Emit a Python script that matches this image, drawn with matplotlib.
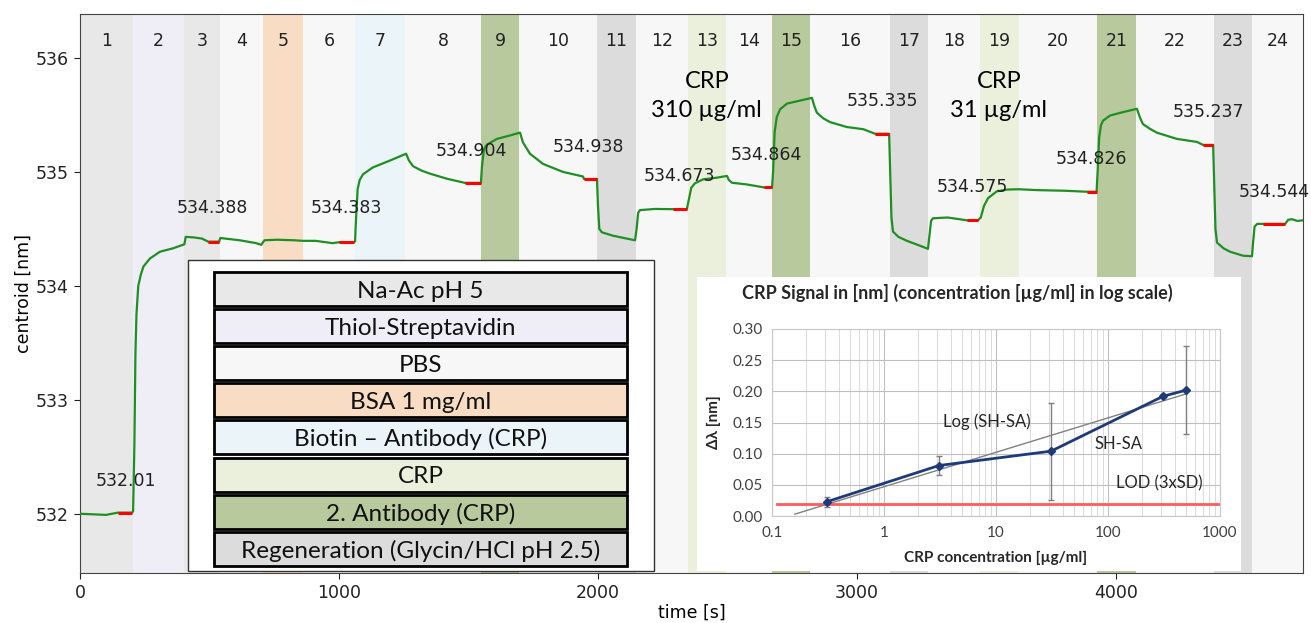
import numpy as np
import matplotlib.pyplot as plt
from matplotlib.patches import Rectangle

W, H = 1311, 623

# ── sensorgram: injection phases ─────────────────────────────────────────
band_edges = [0, 205, 402, 541, 707, 861, 1062, 1255, 1548, 1695, 1996, 2147,
              2347, 2494, 2672, 2819, 3127, 3274, 3475, 3625, 3927, 4077,
              4378, 4525, 4722]
band_kind = ["naac", "thiol", "naac", "pbs", "bsa", "pbs", "biotin", "pbs",
             "ab2", "pbs", "regen", "pbs", "crp", "pbs", "ab2", "pbs",
             "regen", "pbs", "crp", "pbs", "ab2", "pbs", "regen", "pbs"]
kind_color = {"naac": "#E8E8E8", "thiol": "#EFEDF5", "pbs": "#F7F7F7",
              "bsa": "#F9DCC4", "biotin": "#EBF4F8", "crp": "#EBF0DD",
              "ab2": "#B9C99E", "regen": "#DCDCDC"}

# centroid trace
t_pts = [0, 50, 100, 147, 200, 205,
         210, 214, 218, 225, 235, 245, 270, 309, 360, 403,
         408, 440, 471, 495, 537,
         542, 560, 617, 680, 700,
         712, 760, 829, 861,
         910, 975, 1000, 1057,
         1062, 1066, 1072, 1080, 1093, 1131, 1197, 1259,
         1270, 1286, 1320, 1351, 1417, 1486, 1548,
         1552, 1560, 1571, 1610, 1660, 1699,
         1710, 1737, 1788, 1865, 1942, 1946, 1996,
         2000, 2005, 2015, 2058, 2143,
         2149, 2155, 2162, 2220, 2290, 2343,
         2350, 2360, 2374, 2406, 2460, 2498,
         2505, 2517, 2575, 2641, 2672,
         2676, 2682, 2690, 2703, 2730, 2768, 2826,
         2835, 2845, 2870, 2896, 2961, 3024, 3070, 3124,
         3128, 3133, 3139, 3160, 3193, 3240, 3274,
         3280, 3286, 3293, 3350, 3425, 3467,
         3478, 3490, 3506, 3540, 3580, 3622,
         3700, 3800, 3888, 3925,
         3929, 3935, 3942, 3950, 3977, 4027, 4081,
         4092, 4104, 4130, 4158, 4235, 4313, 4336, 4375,
         4379, 4384, 4390, 4415, 4440, 4490, 4525,
         4530, 4535, 4545, 4568, 4653, 4665, 4680, 4700, 4722]
y_pts = [532.00, 531.995, 531.99, 532.01, 532.01, 532.02,
         532.6, 533.4, 533.75, 534.0, 534.10, 534.17, 534.24, 534.30, 534.33, 534.365,
         534.43, 534.425, 534.415, 534.388, 534.388,
         534.42, 534.415, 534.40, 534.375, 534.36,
         534.40, 534.405, 534.40, 534.395,
         534.395, 534.375, 534.383, 534.383,
         534.39, 534.6, 534.85, 534.93, 534.98, 535.04, 535.10, 535.16,
         535.10, 535.05, 535.01, 534.985, 534.94, 534.904, 534.904,
         535.05, 535.2, 535.24, 535.29, 535.32, 535.345,
         535.26, 535.16, 535.07, 535.0, 534.96, 534.938, 534.938,
         534.7, 534.5, 534.47, 534.44, 534.40,
         534.5, 534.64, 534.665, 534.675, 534.673, 534.673,
         534.75, 534.86, 534.90, 534.935, 534.95, 534.965,
         534.93, 534.905, 534.89, 534.864, 534.864,
         535.0, 535.35, 535.48, 535.55, 535.60, 535.62, 535.65,
         535.58, 535.52, 535.47, 535.437, 535.394, 535.375, 535.335, 535.335,
         535.0, 534.6, 534.476, 534.43, 534.395, 534.355, 534.325,
         534.45, 534.57, 534.593, 534.60, 534.575, 534.575,
         534.6, 534.70, 534.77, 534.83, 534.845, 534.848,
         534.84, 534.835, 534.826, 534.826,
         535.0, 535.3, 535.41, 535.45, 535.495, 535.525, 535.554,
         535.48, 535.42, 535.38, 535.344, 535.29, 535.263, 535.237, 535.237,
         534.9, 534.5, 534.38, 534.33, 534.30, 534.265, 534.26,
         534.4, 534.52, 534.544, 534.544, 534.544, 534.58, 534.585, 534.57, 534.575]

# baseline windows (red)
red_start = [147, 495, 1000, 1486, 1946, 2290, 2641, 3070, 3425, 3888, 4336, 4568]
red_end = [200, 537, 1057, 1548, 1996, 2343, 2672, 3124, 3467, 3925, 4375, 4653]
red_level = [532.01, 534.388, 534.383, 534.904, 534.938, 534.673, 534.864,
             535.335, 534.575, 534.826, 535.237, 534.544]

val_text = ["532.01", "534.388", "534.383", "534.904", "534.938", "534.673",
            "534.864", "535.335", "534.575", "534.826", "535.237", "534.544"]
val_t = [178, 513, 1027, 1510, 1965, 2313, 2649, 3097, 3444, 3907, 4355, 4610]
val_y = [532.29, 534.68, 534.68, 535.187, 535.22, 534.96, 535.152, 535.62,
         534.864, 535.11, 535.527, 534.82]

crp_text = ["CRP\n310 µg/ml", "CRP\n31 µg/ml"]
crp_t = [2420, 3548]

legend_names = ["Na-Ac pH 5", "Thiol-Streptavidin", "PBS", "BSA 1 mg/ml",
                "Biotin – Antibody (CRP)", "CRP", "2. Antibody (CRP)",
                "Regeneration (Glycin/HCl pH 2.5)"]
legend_kind = ["naac", "thiol", "pbs", "bsa", "biotin", "crp", "ab2", "regen"]

# ── inset: CRP calibration ───────────────────────────────────────────────
conc = [0.31, 3.1, 31, 310, 500]
signal = [0.023, 0.081, 0.104, 0.192, 0.202]
signal_err = [0.008, 0.015, 0.078, 0.003, 0.070]
trend_x = [0.16, 500]
trend_y = [0.003, 0.196]
lod_level = 0.02
lod_x = [0.11, 1000]

CAL = ["Lato", "DejaVu Sans"]

fig = plt.figure(figsize=(W/100, H/100), dpi=100)
ax = fig.add_axes([80/W, 1-573/H, 1223/W, (573-14)/H])

for i, k in enumerate(band_kind):
    ax.axvspan(band_edges[i], band_edges[i+1], color=kind_color[k], lw=0, zorder=0)
    ax.text((band_edges[i]+band_edges[i+1])/2, 0.9516, str(i+1),
            transform=ax.get_xaxis_transform(), ha="center", va="center",
            fontsize=12.5, color="#222222")

ax.plot(t_pts, y_pts, color="#1f8f24", lw=1.6, zorder=3)
ax.hlines(red_level, red_start, red_end, color="red", lw=2.2, zorder=4)

for s, tx, ty in zip(val_text, val_t, val_y):
    ax.text(tx, ty, s, ha="center", va="center", fontsize=12.5, color="#222222", zorder=5)

ax.set_xlim(0, 4722)
ax.set_ylim(531.48, 536.386)
ax.set_xticks([0, 1000, 2000, 3000, 4000])
ax.set_yticks([532, 533, 534, 535, 536])
ax.tick_params(labelsize=12.5, colors="#222222", length=4.5)
for sp in ax.spines.values():
    sp.set_color("#444444")
ax.set_xlabel("time [s]", fontsize=12.5, labelpad=1)
ax.set_ylabel("centroid [nm]", fontsize=12.5, labelpad=2)

# overlay in pixel coordinates for the pasted legend / inset boxes
ov = fig.add_axes([0, 0, 1, 1])
ov.set_xlim(0, W)
ov.set_ylim(H, 0)
ov.axis("off")

for tx, s in zip(crp_t, crp_text):
    ov.text(80 + tx*0.259, 96, s, ha="center", va="center", fontsize=17,
            family=CAL, linespacing=1.45)

ov.add_patch(Rectangle((188, 260), 466, 311, fc="white", ec="#333333", lw=1))
for i, (name, k) in enumerate(zip(legend_names, legend_kind)):
    y0 = 272 + 37.1*i
    ov.add_patch(Rectangle((214, y0), 413, 34, fc=kind_color[k], ec="black", lw=2))
    ov.text(420.5, y0 + 17, name, ha="center", va="center_baseline",
            fontsize=17.5, family=CAL, color="#111111")

ov.add_patch(Rectangle((697, 277), 544, 294, fc="white", ec="none"))
ov.text(957, 293, "CRP Signal in [nm] (concentration [µg/ml] in log scale)",
        ha="center", va="center", fontsize=13, fontweight="bold", family=CAL,
        color="#262626")
ov.text(714, 422, "Δλ [nm]", ha="center", va="center", rotation=90,
        fontsize=11, fontweight="bold", family=CAL, color="#262626")
ov.text(996, 558, "CRP concentration [µg/ml]", ha="center", va="center",
        fontsize=11, fontweight="bold", family=CAL, color="#262626")

ins = fig.add_axes([772/W, 1-516/H, 448/W, 187/H])
ins.set_xscale("log")
ins.set_xlim(0.1, 1000)
ins.set_ylim(0, 0.30)
ins.set_yticks(np.arange(0, 0.31, 0.05))
ins.set_xticks([0.1, 1, 10, 100, 1000])
ins.set_xticklabels(["0.1", "1", "10", "100", "1000"])
ins.yaxis.set_major_formatter(plt.FormatStrFormatter("%.2f"))
ins.grid(True, which="major", color="#BFBFBF", lw=0.8)
ins.grid(True, which="minor", axis="x", color="#D4D4D4", lw=0.6)
ins.tick_params(which="both", length=0, labelsize=11, colors="#404040", pad=7)
for lab in ins.get_xticklabels() + ins.get_yticklabels():
    lab.set_family(CAL)
for sp in ins.spines.values():
    sp.set_color("#C8C8C8")
    sp.set_linewidth(0.8)

ins.plot(lod_x, [lod_level, lod_level], color="#FF5B5B", lw=2, zorder=2)
ins.plot(trend_x, trend_y, color="#808080", lw=1, zorder=3)
ins.errorbar(conc, signal, yerr=signal_err, fmt="none", ecolor="#7F7F7F",
             elinewidth=1, capsize=2, zorder=3)
ins.plot(conc, signal, color="#1F3A78", lw=2, marker="D", ms=4, zorder=4)
ins.text(8.2, 0.151, "Log (SH-SA)", ha="center", va="center", fontsize=12,
         family=CAL, color="#262626")
ins.text(124, 0.115, "SH-SA", ha="center", va="center", fontsize=12,
         family=CAL, color="#262626")
ins.text(290, 0.052, "LOD (3xSD)", ha="center", va="center", fontsize=12,
         family=CAL, color="#262626")

fig.savefig("out.png", dpi=100)
